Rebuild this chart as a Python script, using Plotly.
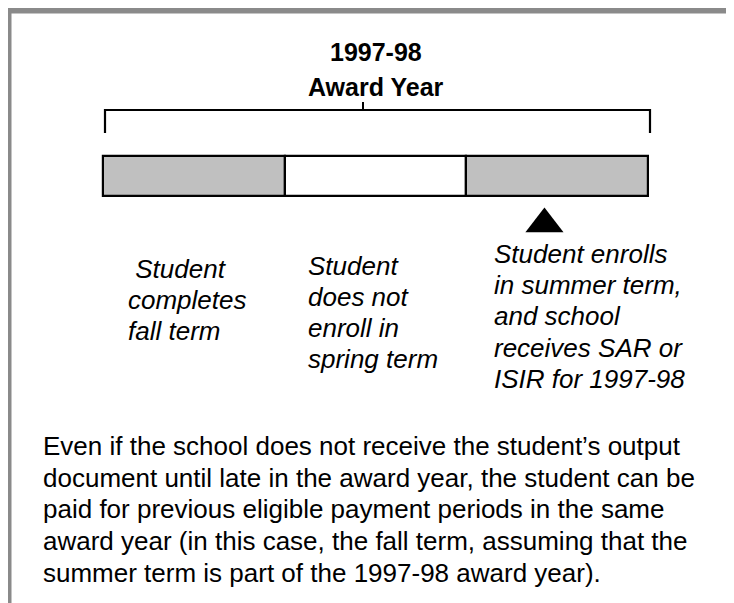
import plotly.graph_objects as go

# ---- data ----
terms = ["Fall", "Spring", "Summer"]
term_length = [1, 1, 1]
term_start = [0, 1, 2]
term_colors = ["#c0c0c0", "#ffffff", "#c0c0c0"]
fall_label = ["\u00a0Student", "completes", "fall term"]
spring_label = ["Student", "does not", "enroll in", "spring term"]
summer_label = ["Student enrolls", "in summer term,", "and school",
                "receives SAR or", "ISIR for 1997-98"]
title_lines = ["1997-98", "Award Year"]
event_position = [2.43]  # point in the summer term when SAR/ISIR is received
note_lines = [
    "Even if the school does not receive the student\u2019s output",
    "document until late in the award year, the student can be",
    "paid for previous eligible payment periods in the same",
    "award year (in this case, the fall term, assuming that the",
    "summer term is part of the 1997-98 award year).",
]

# ---- layout helpers (page pixels; page has an 8px body margin) ----
PAGE_W, PAGE_H = 734, 603
OFF = 8
W, H = PAGE_W - OFF, PAGE_H - OFF
FONT = "Liberation Sans, Arial, sans-serif"
FS = 26
LINE = 31.5
BAR_LEFT_PX, BAR_RIGHT_PX = 103, 648
px_per_unit = (BAR_RIGHT_PX - BAR_LEFT_PX) / sum(term_length)


def px2x(px):
    return (px - BAR_LEFT_PX) / px_per_unit


def paperx(px):
    return (px - OFF) / W


fig = go.Figure()

fig.add_trace(go.Bar(
    orientation="h",
    y=[176] * len(terms),
    x=term_length,
    base=term_start,
    width=40,
    marker=dict(color=term_colors, line=dict(color="black", width=2.2)),
    hoverinfo="skip",
    showlegend=False,
))

fig.add_trace(go.Scatter(
    x=event_position, y=[224],
    mode="markers",
    marker=dict(symbol="triangle-up", size=33, color="black", line=dict(width=0)),
    hoverinfo="skip", showlegend=False,
))

# bracket
fig.add_shape(type="path",
              path=f"M {px2x(105)},133 L {px2x(105)},110 L {px2x(650)},110 L {px2x(650)},133",
              line=dict(color="black", width=2.2), xref="x", yref="y")
fig.add_shape(type="line", x0=px2x(363), x1=px2x(363), y0=102, y1=110,
              line=dict(color="black", width=2), xref="x", yref="y")

# frame (gray)
fig.add_shape(type="rect", xref="paper", yref="y", x0=0, x1=1.0, y0=8, y1=13.5,
              fillcolor="#8a8a8a", line=dict(width=0), layer="above")
fig.add_shape(type="rect", xref="paper", yref="y", x0=0, x1=3.5 / W, y0=8, y1=PAGE_H,
              fillcolor="#8a8a8a", line=dict(width=0), layer="above")


def add_lines(lines, x_px, first_baseline, size=FS, italic=False, bold=False,
              anchor="left", spacing=LINE):
    for i, t in enumerate(lines):
        txt = t
        if italic:
            txt = f"<i>{txt}</i>"
        if bold:
            txt = f"<b>{txt}</b>"
        fig.add_annotation(x=paperx(x_px), xref="paper",
                           y=first_baseline + i * spacing - 0.3465 * size, yref="y",
                           text=txt, showarrow=False,
                           font=dict(family=FONT, size=size, color="black"),
                           xanchor=anchor, yanchor="middle", borderpad=0)


# title
add_lines(title_lines, 376, 60.5, size=25, bold=True, anchor="center", spacing=35)
# term labels
add_lines(fall_label, 127, 278, italic=True, spacing=31)
add_lines(spring_label, 307, 275, italic=True, spacing=31)
add_lines(summer_label, 493, 263, italic=True, spacing=31.2)
# note
add_lines(note_lines, 42, 455, spacing=31.75)

fig.update_layout(
    width=W, height=H,
    margin=dict(l=0, r=0, t=0, b=0),
    paper_bgcolor="white", plot_bgcolor="white",
    xaxis=dict(range=[px2x(OFF), px2x(PAGE_W)], visible=False, fixedrange=True),
    yaxis=dict(range=[PAGE_H, OFF], visible=False, fixedrange=True),
    bargap=0,
)

fig.write_html("out.html", config={"displayModeBar": False})
